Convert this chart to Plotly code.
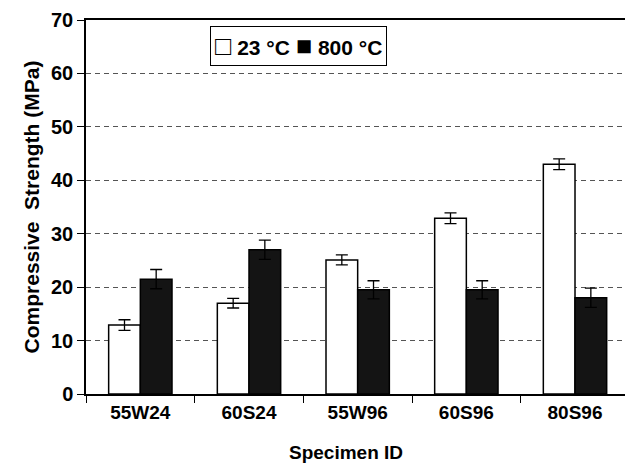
import plotly.graph_objects as go

categories = ["55W24", "60S24", "55W96", "60S96", "80S96"]
strength_23 = [12.9, 17.0, 25.1, 32.9, 43.0]
err_23 = [1.0, 0.9, 0.95, 1.0, 1.0]
strength_800 = [21.5, 27.0, 19.5, 19.5, 18.0]
err_800 = [1.8, 1.8, 1.7, 1.7, 1.8]
y_ticks = [0, 10, 20, 30, 40, 50, 60, 70]
series_names = ["23 °C", "800 °C"]

FONT = "Liberation Sans, Arial, sans-serif"

fig = go.Figure()
fig.add_trace(go.Bar(
    x=categories, y=strength_23, name=series_names[0],
    marker=dict(color="white", line=dict(color="black", width=1.5)),
    error_y=dict(type="data", array=err_23, color="black", thickness=1.3, width=6),
))
fig.add_trace(go.Bar(
    x=categories, y=strength_800, name=series_names[1],
    marker=dict(color="#141414", line=dict(color="black", width=1.5)),
    error_y=dict(type="data", array=err_800, color="black", thickness=1.3, width=6),
))

L, T, B = 86, 20, 69
plot_w = 625 - L
plot_h = 463 - T - B

sq = "<span style='font-size:27px'>{}</span>"
legend_text = sq.format("□") + " " + series_names[0] + " " + sq.format("■") + " " + series_names[1]

fig.update_layout(
    width=625, height=463,
    margin=dict(l=L, r=0, t=T, b=B),
    plot_bgcolor="white", paper_bgcolor="white",
    barmode="group", bargap=0.417, bargroupgap=0,
    font=dict(family=FONT, color="black", weight="bold"),
    showlegend=False,
    xaxis=dict(
        type="category", range=[-0.5, 4.46],
        showline=True, linecolor="black", linewidth=1.5, mirror=True,
        ticks="outside", ticklen=7, tickcolor="black", tickwidth=1,
        tickson="boundaries", showgrid=False,
        tickfont=dict(size=19, family=FONT, weight="bold"),
    ),
    yaxis=dict(
        range=[0, 70], tickvals=y_ticks,
        showline=True, linecolor="black", linewidth=1.5,
        ticks="outside", ticklen=7, tickcolor="black", tickwidth=1,
        showgrid=True, gridcolor="#555555", gridwidth=1, griddash="5px,4px",
        zeroline=False,
        tickfont=dict(size=20, family=FONT, weight="bold"),
        title=dict(text="Compressive  Strength (MPa)", standoff=6,
                   font=dict(size=21, family=FONT, weight="bold")),
    ),
    annotations=[
        dict(
            text="Specimen ID", x=(346 - L) / plot_w, y=-(452 - 394) / plot_h,
            xref="paper", yref="paper", xanchor="center", yanchor="middle",
            showarrow=False, font=dict(size=19, family=FONT, weight="bold"),
        ),
        dict(
            text=legend_text,
            x=(298 - L) / plot_w, y=1 - (46 - T) / plot_h,
            xref="paper", yref="paper", xanchor="center", yanchor="middle",
            showarrow=False, bgcolor="white", bordercolor="black", borderwidth=1,
            borderpad=4, font=dict(size=21, family=FONT, weight="bold"),
        ),
    ],
)

fig.write_html("out.html", config={"displayModeBar": False},
               post_script="document.body.style.margin='0px';")
